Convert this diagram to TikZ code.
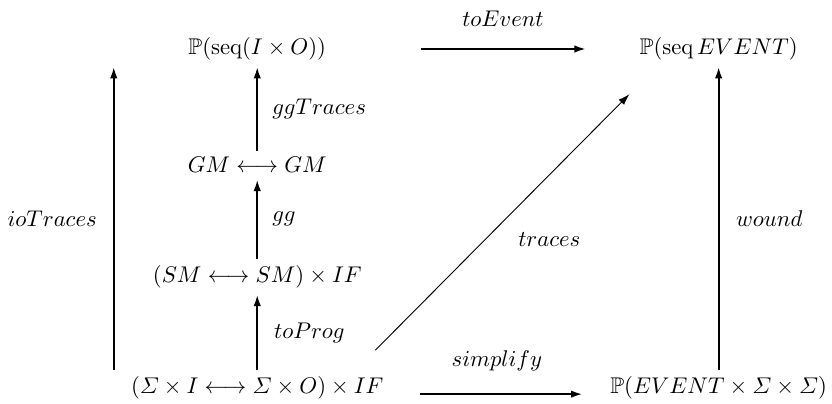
\documentclass[tikz,border=0pt]{standalone}
\usepackage{amsmath,amssymb}
\usetikzlibrary{arrows.meta,calc}

\begin{document}
\begin{tikzpicture}[
    obj/.style={inner sep=3pt, font=\fontsize{10.95}{13.6}\selectfont},
    arr/.style={line width=0.95pt, -{Latex[length=5.5pt,width=3.6pt]}},
    diagarr/.style={line width=0.45pt, -{Latex[length=5.5pt,width=3.6pt]}},
    lbl/.style={inner sep=0pt, font=\fontsize{10.95}{13.6}\selectfont}
]
    \useasboundingbox (0,0) rectangle (14.1017,6.8305);

    % Objects: left column
    \node[obj] (pio) at (4.36, 6.00) {$\mathbb{P}(\mathrm{seq}(I \times O))$};
    \node[obj] (gmgm) at (4.36, 4.03) {$GM \longleftrightarrow GM$};
    \node[obj] (smsm) at (4.36, 2.14) {$(SM \longleftrightarrow SM) \times IF$};
    \node[obj] (sigio) at (4.36, 0.25) {$(\varSigma \times I \longleftrightarrow \varSigma \times O) \times IF$};

    % Objects: right column
    \node[obj] (pev) at (12.18, 6.00) {$\mathbb{P}(\mathrm{seq}\, EVENT)$};
    \node[obj] (pevss) at (12.18, 0.25) {$\mathbb{P}(EVENT \times \varSigma \times \varSigma)$};

    % Vertical arrows up the middle column
    \draw[arr] (sigio) -- (smsm) node[lbl, midway, right=0.27cm] {$toProg$};
    \draw[arr] (smsm) -- (gmgm) node[lbl, midway, right=0.24cm] {$gg$};
    \draw[arr] (gmgm) -- (pio) node[lbl, midway, right=0.24cm] {$ggTraces$};

    % Outer left arrow
    \draw[arr] ([xshift=-0.18cm]sigio.north west) -- ([xshift=-0.18cm]sigio.north west |- pio.south)
        node[lbl, midway, left=0.27cm] {$ioTraces$};

    % Right column
    \draw[arr] (pevss) -- (pev) node[lbl, midway, right=0.28cm] {$wound$};

    % Horizontal arrows
    \draw[arr, shorten <=1.5cm, shorten >=0.8cm] (pio) -- (pev)
        node[lbl, pos=0.567, above=0.36cm] {$toEvent$};
    \draw[arr, shorten <=0.5cm, shorten >=0.36cm] ([yshift=-0.1cm]sigio.east) -- ([yshift=-0.1cm]pevss.west)
        node[lbl, midway, above=0.38cm] {$simplify$};

    % Diagonal
    \draw[diagarr] ([shift={(-0.25,0.34)}]sigio.north east) -- ([shift={(-0.06,-0.46)}]pev.south west)
        node[lbl, pos=0.463, anchor=north west, xshift=0.42cm] {$traces$};

\end{tikzpicture}
\end{document}
